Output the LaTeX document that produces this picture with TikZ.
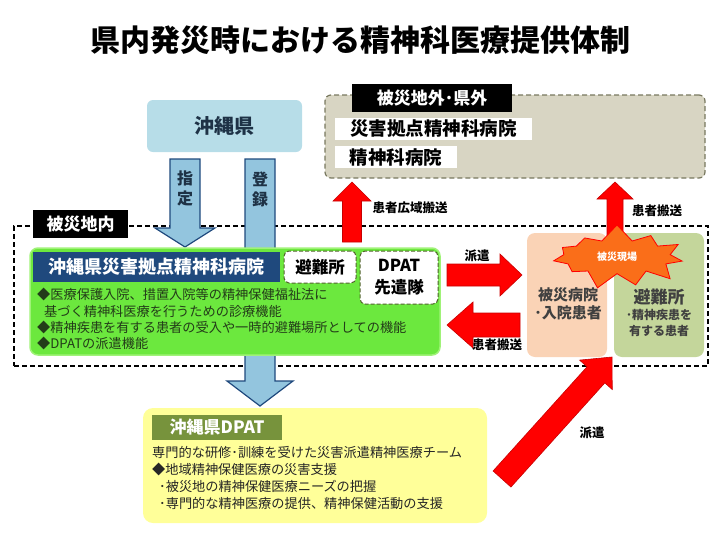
\documentclass[tikz,border=0pt]{standalone}
\usepackage{fontspec}
\setmainfont{Noto Sans CJK JP}
\usetikzlibrary{calc,shapes.symbols}

\definecolor{kenblue}{RGB}{183,221,232}
\definecolor{arrowblue}{RGB}{147,197,222}
\definecolor{darkblue}{RGB}{31,73,125}
\definecolor{kentext}{RGB}{30,50,70}
\definecolor{outside}{RGB}{216,213,195}
\definecolor{outsideline}{RGB}{120,120,95}
\definecolor{hospgreen}{RGB}{108,232,62}
\definecolor{hospline}{RGB}{160,242,120}
\definecolor{hosptext}{RGB}{35,60,25}
\definecolor{dashgreen}{RGB}{79,98,40}
\definecolor{peach}{RGB}{250,211,182}
\definecolor{olive}{RGB}{196,214,155}
\definecolor{boxtext}{RGB}{64,64,64}
\definecolor{burst}{RGB}{250,110,25}
\definecolor{lightyellow}{RGB}{255,255,153}
\definecolor{dpatgreen}{RGB}{119,147,60}
\definecolor{redline}{RGB}{200,0,0}

\newcommand{\bigarrow}[6][]{%
  \coordinate (ah) at ($(#3)!#6!(#2)$);
  \filldraw[#1] ($(#2)!#4!90:(#3)$) -- ($(ah)!#4!90:(#3)$) -- ($(ah)!#5!90:(#3)$) -- (#3)
    -- ($(ah)!#5!-90:(#3)$) -- ($(ah)!#4!-90:(#3)$) -- ($(#2)!#4!-90:(#3)$) -- cycle;}

\tikzset{
  redarrow/.style={fill=red, draw=redline, line width=0.6pt},
  bluearrow/.style={fill=arrowblue, draw=darkblue, line width=1.2pt},
  blacklabel/.style={fill=black, text=white, inner sep=0pt, font=\fontsize{17}{20}\selectfont\bfseries},
  whitelabel/.style={fill=white, inner sep=0pt, minimum height=22pt, font=\fontsize{18.5}{20}\selectfont\bfseries},
  dashbox/.style={draw=dashgreen, dash pattern=on 4pt off 2pt, line width=1pt, fill=white, rounded corners=5pt,
    inner sep=0pt, align=center, font=\fontsize{16.5}{22}\selectfont\bfseries},
  arrowlabel/.style={font=\fontsize{12.5}{14}\selectfont\bfseries},
  arrowtext/.style={align=center, text=kentext, font=\fontsize{16}{20}\selectfont\bfseries}
}

\begin{document}
\begin{tikzpicture}[x=1pt,y=-1pt]
\useasboundingbox (0,0) rectangle (720,541);

\node (title) at (360,40) {\fontsize{30}{34}\selectfont\bfseries 県内発災時における精神科医療提供体制};

\node[fill=kenblue, rounded corners=6pt, minimum width=155pt, minimum height=52pt, text=kentext,
  font=\fontsize{20}{24}\selectfont\bfseries] (okinawa) at (224.5,126) {沖縄県};

% outside the disaster area
\node[fill=outside, draw=outsideline, dash pattern=on 5pt off 3pt, line width=1.2pt, rounded corners=6pt,
  minimum width=380pt, minimum height=83pt] (outside) at (515,136.5) {};
\node[blacklabel, minimum width=160pt, minimum height=28pt] (outside-label) at (432,98) {被災地外･県外};
\node[whitelabel, minimum width=197pt] (saigai-hosp) at (433.5,129) {災害拠点精神科病院};
\node[whitelabel, minimum width=122pt] (seishin-hosp) at (396,157) {精神科病院};

% inside the disaster area
\node[draw, dash pattern=on 5pt off 3pt, line width=1.2pt, minimum width=694pt, minimum height=140pt] (inside) at (361,296) {};
\node[blacklabel, minimum width=95pt, minimum height=28pt] (inside-label) at (80.5,224) {被災地内};

\coordinate (kouiki-a) at (352,242);
\coordinate (kouiki-b) at (352,182);
\bigarrow[redarrow]{kouiki-a}{kouiki-b}{9.5pt}{19pt}{19pt}
\node[arrowlabel] (kouiki-label) at (410,208) {患者広域搬送};

\coordinate (shitei-a) at (185,159);
\coordinate (shitei-b) at (185,247);
\bigarrow[bluearrow]{shitei-a}{shitei-b}{15pt}{30pt}{19pt}
\node[arrowtext] (shitei) at (185,188) {指\\定};

\coordinate (touroku-a) at (260,159);
\coordinate (touroku-b) at (260,406);
\bigarrow[bluearrow]{touroku-a}{touroku-b}{15pt}{33pt}{25pt}
\node[arrowtext] (touroku) at (260,189) {登\\録};

\node[fill=hospgreen, draw=hospline, line width=1.5pt, rounded corners=8pt, minimum width=410pt,
  minimum height=107pt] (hosp) at (235,301.5) {};
\node[fill=darkblue, text=white, minimum width=247pt, minimum height=30pt,
  font=\fontsize{18}{20}\selectfont\bfseries] (hosp-title) at (156.5,267) {沖縄県災害拠点精神科病院};
\node[dashbox, minimum width=72pt, minimum height=32pt] (hinan-a) at (320,267) {避難所};
\node[dashbox, minimum width=78pt, minimum height=53pt] (dpat-senken) at (399,277.5) {DPAT\\先遣隊};
\node[anchor=north west, align=left, inner sep=0pt, text=hosptext, font=\fontsize{13.2}{16.4}\selectfont]
  (hosp-text) at (37,288) {◆医療保護入院、措置入院等の精神保健福祉法に\\
  \hspace*{7pt}基づく精神科医療を行うための診療機能\\
  ◆精神疾患を有する患者の受入や一時的避難場所としての機能\\
  ◆DPATの派遣機能};

\coordinate (haken-a) at (447,275);
\coordinate (haken-b) at (522,275);
\bigarrow[redarrow]{haken-a}{haken-b}{11pt}{21pt}{22pt}
\node[arrowlabel] (haken-label) at (477,256) {派遣};

\coordinate (hanso-a) at (520,325);
\coordinate (hanso-b) at (447,325);
\bigarrow[redarrow]{hanso-a}{hanso-b}{12pt}{23pt}{26pt}
\node[arrowlabel] (hanso-label) at (497,345) {患者搬送};

\node[fill=peach, rounded corners=8pt, minimum width=80pt, minimum height=124pt] (hisai-hosp) at (567,295) {};
\node[align=center, text=boxtext, font=\fontsize{15}{18}\selectfont\bfseries] (hisai-hosp-text) at (568,304) {被災病院\\･入院患者};
\node[fill=olive, rounded corners=8pt, minimum width=90pt, minimum height=124pt] (hinan-b) at (659,295) {};
\node[text=boxtext, font=\fontsize{17}{20}\selectfont\bfseries] (hinan-b-title) at (659,297) {避難所};
\node[align=center, text=boxtext, font=\fontsize{12}{16}\selectfont\bfseries] (hinan-b-text) at (659,323) {･精神疾患を\\有する患者};

\coordinate (hanso2-a) at (615,245);
\coordinate (hanso2-b) at (615,182);
\bigarrow[redarrow]{hanso2-a}{hanso2-b}{8pt}{18pt}{17pt}
\node[arrowlabel] (hanso2-label) at (657,211) {患者搬送};

\node[starburst, starburst points=11, starburst point height=17pt, random starburst=7, fill=burst, draw=red,
  line width=0.8pt, inner xsep=18pt, inner ysep=7pt, text=white,
  font=\fontsize{10}{12}\selectfont\bfseries] (genba) at (617,257) {被災現場};

% DPAT
\node[fill=lightyellow, rounded corners=10pt, minimum width=344pt, minimum height=115pt] (dpat) at (315,465.5) {};
\node[fill=dpatgreen, text=white, minimum width=130pt, minimum height=25pt,
  font=\fontsize{17}{20}\selectfont\bfseries] (dpat-title) at (217,427.5) {沖縄県DPAT};
\node[anchor=north west, align=left, inner sep=0pt, text=black!85, font=\fontsize{13.2}{17.2}\selectfont]
  (dpat-text) at (152,446) {専門的な研修･訓練を受けた災害派遣精神医療チーム\\
  ◆地域精神保健医療の災害支援\\
  \hspace*{7pt}･被災地の精神保健医療ニーズの把握\\
  \hspace*{7pt}･専門的な精神医療の提供、精神保健活動の支援};

\coordinate (haken2-a) at (502,479);
\coordinate (haken2-b) at (612,357);
\bigarrow[redarrow]{haken2-a}{haken2-b}{12pt}{22pt}{24pt}
\node[arrowlabel] (haken2-label) at (592,433) {派遣};
\end{tikzpicture}
\end{document}
